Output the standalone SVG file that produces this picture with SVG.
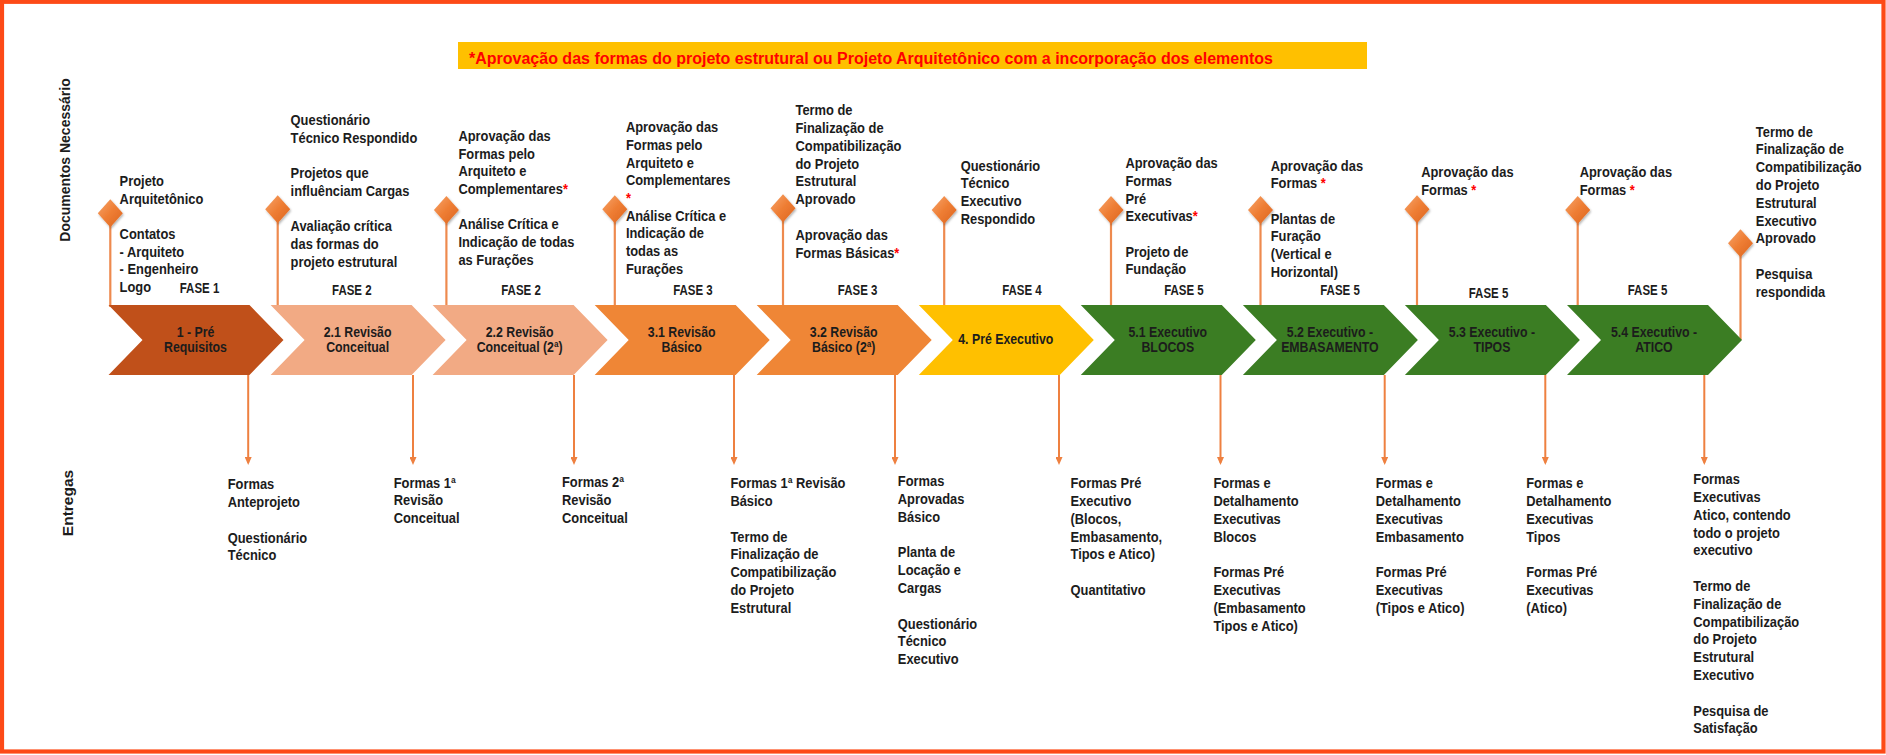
<svg xmlns="http://www.w3.org/2000/svg" width="1886" height="755" viewBox="0 0 1886 755">
  <defs>
    <style>
      .t { font-family: "Liberation Sans", Arial, sans-serif; font-weight: 700; font-size: 15px; fill: #1c1c1c; }
      .cl { font-family: "Liberation Sans", Arial, sans-serif; font-weight: 700; font-size: 14.5px; fill: #1c1c1c; text-anchor: middle; }
      .ph { font-family: "Liberation Sans", Arial, sans-serif; font-weight: 700; font-size: 14px; fill: #1c1c1c; text-anchor: middle; }
      .side { font-family: "Liberation Sans", Arial, sans-serif; font-weight: 700; fill: #1c1c1c; text-anchor: middle; }
      .ban { font-family: "Liberation Sans", Arial, sans-serif; font-weight: 700; font-size: 16px; fill: #ff0000; }
      .ast { fill: #ff0000; }
      .stem { stroke: #ee8a4e; stroke-width: 2.2; fill: none; }
      .arr { stroke: #ee8040; stroke-width: 2; fill: none; marker-end: url(#ah); }
      .c1 { fill: #c0501a; }
      .c2 { fill: #f2aa84; }
      .c3 { fill: #ef8636; }
      .c4 { fill: #ffc000; }
      .c5 { fill: #3b7d23; }
    </style>
    <linearGradient id="dg" x1="0" y1="0" x2="1" y2="1">
      <stop offset="0" stop-color="#f7a56c"/>
      <stop offset="0.5" stop-color="#ee7d33"/>
      <stop offset="1" stop-color="#dc6420"/>
    </linearGradient>
    <filter id="sh" x="-40%" y="-40%" width="180%" height="180%">
      <feDropShadow dx="1" dy="1.5" stdDeviation="1.2" flood-color="#000" flood-opacity="0.3"/>
    </filter>
    <polygon id="dia" points="0,-14 12.5,0 0,14 -12.5,0" fill="url(#dg)" filter="url(#sh)"/>
    <marker id="ah" viewBox="0 0 10 10" refX="7" refY="5" markerWidth="8" markerHeight="7" preserveAspectRatio="none" orient="auto" markerUnits="userSpaceOnUse">
      <path d="M0,0 L10,5 L0,10 Z" fill="#ee8040"/>
    </marker>
  </defs>

  <rect x="0" y="0" width="1886" height="755" fill="#ffffff"/>
  <rect x="2" y="1.8" width="1881.5" height="749.7" fill="none" stroke="#fd4a17" stroke-width="4.2"/>

  <!-- banner -->
  <g id="banner">
    <rect x="458" y="42" width="909" height="27" fill="#ffc000"/>
    <text class="ban" x="469" y="63.5" textLength="804" lengthAdjust="spacingAndGlyphs">*Aprovação das formas do projeto estrutural ou Projeto Arquitetônico com a incorporação dos elementos</text>
  </g>

  <!-- side labels -->
  <g id="label-docs">
    <text class="side" font-size="14" transform="translate(70,160) rotate(-90)">Documentos Necessário</text>
  </g>
  <g id="label-deliveries">
    <text class="side" font-size="15.5" transform="translate(73,503) rotate(-90)">Entregas</text>
  </g>

  <!-- connectors -->
  <g id="connectors">
    <line class="stem" x1="110.3" y1="213" x2="110.3" y2="307"/>
    <line class="stem" x1="277.7" y1="209" x2="277.7" y2="305"/>
    <line class="stem" x1="446.4" y1="210" x2="446.4" y2="305"/>
    <line class="stem" x1="614.8" y1="209" x2="614.8" y2="305"/>
    <line class="stem" x1="783" y1="208" x2="783" y2="305"/>
    <line class="stem" x1="944.2" y1="210" x2="944.2" y2="305"/>
    <line class="stem" x1="1111" y1="210" x2="1111" y2="305"/>
    <line class="stem" x1="1260.5" y1="210" x2="1260.5" y2="305"/>
    <line class="stem" x1="1417" y1="209" x2="1417" y2="305"/>
    <line class="stem" x1="1577.7" y1="210" x2="1577.7" y2="305"/>
    <line class="stem" x1="1740.5" y1="243" x2="1740.5" y2="340"/>

    <line class="arr" x1="248.2" y1="375" x2="248.2" y2="462.6"/>
    <line class="arr" x1="413" y1="375" x2="413" y2="462.6"/>
    <line class="arr" x1="574" y1="375" x2="574" y2="462.6"/>
    <line class="arr" x1="734" y1="375" x2="734" y2="462.6"/>
    <line class="arr" x1="895" y1="375" x2="895" y2="462.6"/>
    <line class="arr" x1="1059" y1="375" x2="1059" y2="462.6"/>
    <line class="arr" x1="1220.5" y1="375" x2="1220.5" y2="462.6"/>
    <line class="arr" x1="1384.7" y1="375" x2="1384.7" y2="462.6"/>
    <line class="arr" x1="1545.3" y1="375" x2="1545.3" y2="462.6"/>
    <line class="arr" x1="1704.3" y1="375" x2="1704.3" y2="462.6"/>
  </g>

  <!-- milestone markers -->
  <g id="markers">
    <use href="#dia" x="110.3" y="213.3"/>
    <use href="#dia" x="277.7" y="209.3"/>
    <use href="#dia" x="446.4" y="210"/>
    <use href="#dia" x="614.8" y="209.3"/>
    <use href="#dia" x="783" y="208.3"/>
    <use href="#dia" x="944.2" y="210"/>
    <use href="#dia" x="1111" y="210"/>
    <use href="#dia" x="1260.5" y="210"/>
    <use href="#dia" x="1417" y="209.3"/>
    <use href="#dia" x="1577.7" y="210"/>
    <use href="#dia" x="1740.5" y="243.3"/>
  </g>

  <!-- phase chevrons -->
  <g id="step-1">
    <polygon class="c1" points="108.5,305 249.5,305 283.5,340 249.5,375 108.5,375 142.5,340"/>
    <g transform="translate(195.5 0) scale(0.85 1)"><text class="cl" y="336.7"><tspan x="0">1 - Pré</tspan><tspan x="0" dy="15">Requisitos</tspan></text></g>
    <g transform="translate(199.5 0) scale(0.82 1)"><text class="ph" x="0" y="293.5">FASE 1</text></g>
  </g>
  <g id="step-2-1">
    <polygon class="c2" points="270.6,305 411.6,305 445.6,340 411.6,375 270.6,375 304.6,340"/>
    <g transform="translate(357.6 0) scale(0.85 1)"><text class="cl" y="336.7"><tspan x="0">2.1 Revisão</tspan><tspan x="0" dy="15">Conceitual</tspan></text></g>
    <g transform="translate(351.8 0) scale(0.82 1)"><text class="ph" x="0" y="295">FASE 2</text></g>
  </g>
  <g id="step-2-2">
    <polygon class="c2" points="432.6,305 573.6,305 607.6,340 573.6,375 432.6,375 466.6,340"/>
    <g transform="translate(519.6 0) scale(0.85 1)"><text class="cl" y="336.7"><tspan x="0">2.2 Revisão</tspan><tspan x="0" dy="15">Conceitual (2ª)</tspan></text></g>
    <g transform="translate(521 0) scale(0.82 1)"><text class="ph" x="0" y="295">FASE 2</text></g>
  </g>
  <g id="step-3-1">
    <polygon class="c3" points="594.7,305 735.7,305 769.7,340 735.7,375 594.7,375 628.7,340"/>
    <g transform="translate(681.7 0) scale(0.85 1)"><text class="cl" y="336.7"><tspan x="0">3.1 Revisão</tspan><tspan x="0" dy="15">Básico</tspan></text></g>
    <g transform="translate(692.9 0) scale(0.82 1)"><text class="ph" x="0" y="295">FASE 3</text></g>
  </g>
  <g id="step-3-2">
    <polygon class="c3" points="756.7,305 897.7,305 931.7,340 897.7,375 756.7,375 790.7,340"/>
    <g transform="translate(843.7 0) scale(0.85 1)"><text class="cl" y="336.7"><tspan x="0">3.2 Revisão</tspan><tspan x="0" dy="15">Básico (2ª)</tspan></text></g>
    <g transform="translate(857.6 0) scale(0.82 1)"><text class="ph" x="0" y="295">FASE 3</text></g>
  </g>
  <g id="step-4">
    <polygon class="c4" points="918.8,305 1059.8,305 1093.8,340 1059.8,375 918.8,375 952.8,340"/>
    <g transform="translate(1005.8 0) scale(0.85 1)"><text class="cl" x="0" y="344.3">4. Pré Executivo</text></g>
    <g transform="translate(1021.9 0) scale(0.82 1)"><text class="ph" x="0" y="295">FASE 4</text></g>
  </g>
  <g id="step-5-1">
    <polygon class="c5" points="1080.8,305 1221.8,305 1255.8,340 1221.8,375 1080.8,375 1114.8,340"/>
    <g transform="translate(1167.8 0) scale(0.85 1)"><text class="cl" y="336.7"><tspan x="0">5.1 Executivo</tspan><tspan x="0" dy="15">BLOCOS</tspan></text></g>
    <g transform="translate(1183.9 0) scale(0.82 1)"><text class="ph" x="0" y="295">FASE 5</text></g>
  </g>
  <g id="step-5-2">
    <polygon class="c5" points="1242.9,305 1383.9,305 1417.9,340 1383.9,375 1242.9,375 1276.9,340"/>
    <g transform="translate(1329.9 0) scale(0.85 1)"><text class="cl" y="336.7"><tspan x="0">5.2 Executivo -</tspan><tspan x="0" dy="15">EMBASAMENTO</tspan></text></g>
    <g transform="translate(1340 0) scale(0.82 1)"><text class="ph" x="0" y="295">FASE 5</text></g>
  </g>
  <g id="step-5-3">
    <polygon class="c5" points="1404.9,305 1545.9,305 1579.9,340 1545.9,375 1404.9,375 1438.9,340"/>
    <g transform="translate(1491.9 0) scale(0.85 1)"><text class="cl" y="336.7"><tspan x="0">5.3 Executivo -</tspan><tspan x="0" dy="15">TIPOS</tspan></text></g>
    <g transform="translate(1488.5 0) scale(0.82 1)"><text class="ph" x="0" y="297.7">FASE 5</text></g>
  </g>
  <g id="step-5-4">
    <polygon class="c5" points="1567,305 1708,305 1742,340 1708,375 1567,375 1601,340"/>
    <g transform="translate(1654 0) scale(0.85 1)"><text class="cl" y="336.7"><tspan x="0">5.4  Executivo -</tspan><tspan x="0" dy="15">ATICO</tspan></text></g>
    <g transform="translate(1647.5 0) scale(0.82 1)"><text class="ph" x="0" y="295">FASE 5</text></g>
  </g>

  <!-- required documents -->
  <g id="docs-1" transform="translate(119.6 0) scale(0.86 1)">
    <text class="t" y="186"><tspan x="0">Projeto</tspan><tspan x="0" dy="17.7">Arquitetônico</tspan><tspan x="0" dy="35.4">Contatos</tspan><tspan x="0" dy="17.7">- Arquiteto</tspan><tspan x="0" dy="17.7">- Engenheiro</tspan><tspan x="0" dy="17.7">Logo</tspan></text>
  </g>
  <g id="docs-2" transform="translate(290.6 0) scale(0.86 1)">
    <text class="t" y="125"><tspan x="0">Questionário</tspan><tspan x="0" dy="17.7">Técnico Respondido</tspan><tspan x="0" dy="35.4">Projetos que</tspan><tspan x="0" dy="17.7">influênciam Cargas</tspan><tspan x="0" dy="35.4">Avaliação crítica</tspan><tspan x="0" dy="17.7">das formas do</tspan><tspan x="0" dy="17.7">projeto estrutural</tspan></text>
  </g>
  <g id="docs-3" transform="translate(458.4 0) scale(0.86 1)">
    <text class="t" y="141"><tspan x="0">Aprovação das</tspan><tspan x="0" dy="17.7">Formas pelo</tspan><tspan x="0" dy="17.7">Arquiteto e</tspan><tspan x="0" dy="17.7">Complementares<tspan class="ast">*</tspan></tspan><tspan x="0" dy="35.4">Análise Crítica e</tspan><tspan x="0" dy="17.7">Indicação de todas</tspan><tspan x="0" dy="17.7">as Furações</tspan></text>
  </g>
  <g id="docs-4" transform="translate(625.9 0) scale(0.86 1)">
    <text class="t" y="132.3"><tspan x="0">Aprovação das</tspan><tspan x="0" dy="17.7">Formas pelo</tspan><tspan x="0" dy="17.7">Arquiteto e</tspan><tspan x="0" dy="17.7">Complementares</tspan><tspan x="0" dy="17.7" class="ast">*</tspan><tspan x="0" dy="17.7">Análise Crítica e</tspan><tspan x="0" dy="17.7">Indicação de</tspan><tspan x="0" dy="17.7">todas as</tspan><tspan x="0" dy="17.7">Furações</tspan></text>
  </g>
  <g id="docs-5" transform="translate(795.5 0) scale(0.86 1)">
    <text class="t" y="115.3"><tspan x="0">Termo de</tspan><tspan x="0" dy="17.8">Finalização de</tspan><tspan x="0" dy="17.8">Compatibilização</tspan><tspan x="0" dy="17.8">do Projeto</tspan><tspan x="0" dy="17.8">Estrutural</tspan><tspan x="0" dy="17.8">Aprovado</tspan><tspan x="0" dy="35.6">Aprovação das</tspan><tspan x="0" dy="17.8">Formas Básicas<tspan class="ast">*</tspan></tspan></text>
  </g>
  <g id="docs-6" transform="translate(960.7 0) scale(0.86 1)">
    <text class="t" y="170.7"><tspan x="0">Questionário</tspan><tspan x="0" dy="17.7">Técnico</tspan><tspan x="0" dy="17.7">Executivo</tspan><tspan x="0" dy="17.7">Respondido</tspan></text>
  </g>
  <g id="docs-7" transform="translate(1125.4 0) scale(0.86 1)">
    <text class="t" y="168.3"><tspan x="0">Aprovação das</tspan><tspan x="0" dy="17.7">Formas</tspan><tspan x="0" dy="17.7">Pré</tspan><tspan x="0" dy="17.7">Executivas<tspan class="ast">*</tspan></tspan><tspan x="0" dy="35.4">Projeto de</tspan><tspan x="0" dy="17.7">Fundação</tspan></text>
  </g>
  <g id="docs-8" transform="translate(1270.7 0) scale(0.86 1)">
    <text class="t" y="170.7"><tspan x="0">Aprovação das</tspan><tspan x="0" dy="17.7">Formas <tspan class="ast">*</tspan></tspan><tspan x="0" dy="35.4">Plantas de</tspan><tspan x="0" dy="17.7">Furação</tspan><tspan x="0" dy="17.7">(Vertical e</tspan><tspan x="0" dy="17.7">Horizontal)</tspan></text>
  </g>
  <g id="docs-9" transform="translate(1421.2 0) scale(0.86 1)">
    <text class="t" y="177.3"><tspan x="0">Aprovação das</tspan><tspan x="0" dy="17.7">Formas <tspan class="ast">*</tspan></tspan></text>
  </g>
  <g id="docs-10" transform="translate(1579.7 0) scale(0.86 1)">
    <text class="t" y="177.3"><tspan x="0">Aprovação das</tspan><tspan x="0" dy="17.7">Formas <tspan class="ast">*</tspan></tspan></text>
  </g>
  <g id="docs-11" transform="translate(1755.8 0) scale(0.86 1)">
    <text class="t" y="136.7"><tspan x="0">Termo de</tspan><tspan x="0" dy="17.8">Finalização de</tspan><tspan x="0" dy="17.8">Compatibilização</tspan><tspan x="0" dy="17.8">do Projeto</tspan><tspan x="0" dy="17.8">Estrutural</tspan><tspan x="0" dy="17.8">Executivo</tspan><tspan x="0" dy="17.8">Aprovado</tspan><tspan x="0" dy="35.6">Pesquisa</tspan><tspan x="0" dy="17.8">respondida</tspan></text>
  </g>

  <!-- deliverables -->
  <g id="out-1" transform="translate(227.7 0) scale(0.86 1)">
    <text class="t" y="489.3"><tspan x="0">Formas</tspan><tspan x="0" dy="17.8">Anteprojeto</tspan><tspan x="0" dy="35.6">Questionário</tspan><tspan x="0" dy="17.8">Técnico</tspan></text>
  </g>
  <g id="out-2" transform="translate(393.7 0) scale(0.86 1)">
    <text class="t" y="487.7"><tspan x="0">Formas 1ª</tspan><tspan x="0" dy="17.8">Revisão</tspan><tspan x="0" dy="17.8">Conceitual</tspan></text>
  </g>
  <g id="out-3" transform="translate(562 0) scale(0.86 1)">
    <text class="t" y="487"><tspan x="0">Formas 2ª</tspan><tspan x="0" dy="17.8">Revisão</tspan><tspan x="0" dy="17.8">Conceitual</tspan></text>
  </g>
  <g id="out-4" transform="translate(730.4 0) scale(0.86 1)">
    <text class="t" y="488.3"><tspan x="0">Formas 1ª Revisão</tspan><tspan x="0" dy="17.8">Básico</tspan><tspan x="0" dy="35.6">Termo de</tspan><tspan x="0" dy="17.8">Finalização de</tspan><tspan x="0" dy="17.8">Compatibilização</tspan><tspan x="0" dy="17.8">do Projeto</tspan><tspan x="0" dy="17.8">Estrutural</tspan></text>
  </g>
  <g id="out-5" transform="translate(897.8 0) scale(0.86 1)">
    <text class="t" y="486.3"><tspan x="0">Formas</tspan><tspan x="0" dy="17.8">Aprovadas</tspan><tspan x="0" dy="17.8">Básico</tspan><tspan x="0" dy="35.6">Planta de</tspan><tspan x="0" dy="17.8">Locação e</tspan><tspan x="0" dy="17.8">Cargas</tspan><tspan x="0" dy="35.6">Questionário</tspan><tspan x="0" dy="17.8">Técnico</tspan><tspan x="0" dy="17.8">Executivo</tspan></text>
  </g>
  <g id="out-6" transform="translate(1070.5 0) scale(0.86 1)">
    <text class="t" y="488.3"><tspan x="0">Formas Pré</tspan><tspan x="0" dy="17.8">Executivo</tspan><tspan x="0" dy="17.8">(Blocos,</tspan><tspan x="0" dy="17.8">Embasamento,</tspan><tspan x="0" dy="17.8">Tipos e Atico)</tspan><tspan x="0" dy="35.6">Quantitativo</tspan></text>
  </g>
  <g id="out-7" transform="translate(1213.4 0) scale(0.86 1)">
    <text class="t" y="488.3"><tspan x="0">Formas e</tspan><tspan x="0" dy="17.8">Detalhamento</tspan><tspan x="0" dy="17.8">Executivas</tspan><tspan x="0" dy="17.8">Blocos</tspan><tspan x="0" dy="35.6">Formas Pré</tspan><tspan x="0" dy="17.8">Executivas</tspan><tspan x="0" dy="17.8">(Embasamento</tspan><tspan x="0" dy="17.8">Tipos e Atico)</tspan></text>
  </g>
  <g id="out-8" transform="translate(1375.7 0) scale(0.86 1)">
    <text class="t" y="488.3"><tspan x="0">Formas e</tspan><tspan x="0" dy="17.8">Detalhamento</tspan><tspan x="0" dy="17.8">Executivas</tspan><tspan x="0" dy="17.8">Embasamento</tspan><tspan x="0" dy="35.6">Formas Pré</tspan><tspan x="0" dy="17.8">Executivas</tspan><tspan x="0" dy="17.8">(Tipos e Atico)</tspan></text>
  </g>
  <g id="out-9" transform="translate(1526.2 0) scale(0.86 1)">
    <text class="t" y="488.3"><tspan x="0">Formas e</tspan><tspan x="0" dy="17.8">Detalhamento</tspan><tspan x="0" dy="17.8">Executivas</tspan><tspan x="0" dy="17.8">Tipos</tspan><tspan x="0" dy="35.6">Formas Pré</tspan><tspan x="0" dy="17.8">Executivas</tspan><tspan x="0" dy="17.8">(Atico)</tspan></text>
  </g>
  <g id="out-10" transform="translate(1693.3 0) scale(0.86 1)">
    <text class="t" y="484.3"><tspan x="0">Formas</tspan><tspan x="0" dy="17.8">Executivas</tspan><tspan x="0" dy="17.8">Atico, contendo</tspan><tspan x="0" dy="17.8">todo o projeto</tspan><tspan x="0" dy="17.8">executivo</tspan><tspan x="0" dy="35.6">Termo de</tspan><tspan x="0" dy="17.8">Finalização de</tspan><tspan x="0" dy="17.8">Compatibilização</tspan><tspan x="0" dy="17.8">do Projeto</tspan><tspan x="0" dy="17.8">Estrutural</tspan><tspan x="0" dy="17.8">Executivo</tspan><tspan x="0" dy="35.6">Pesquisa de</tspan><tspan x="0" dy="17.8">Satisfação</tspan></text>
  </g>
</svg>
